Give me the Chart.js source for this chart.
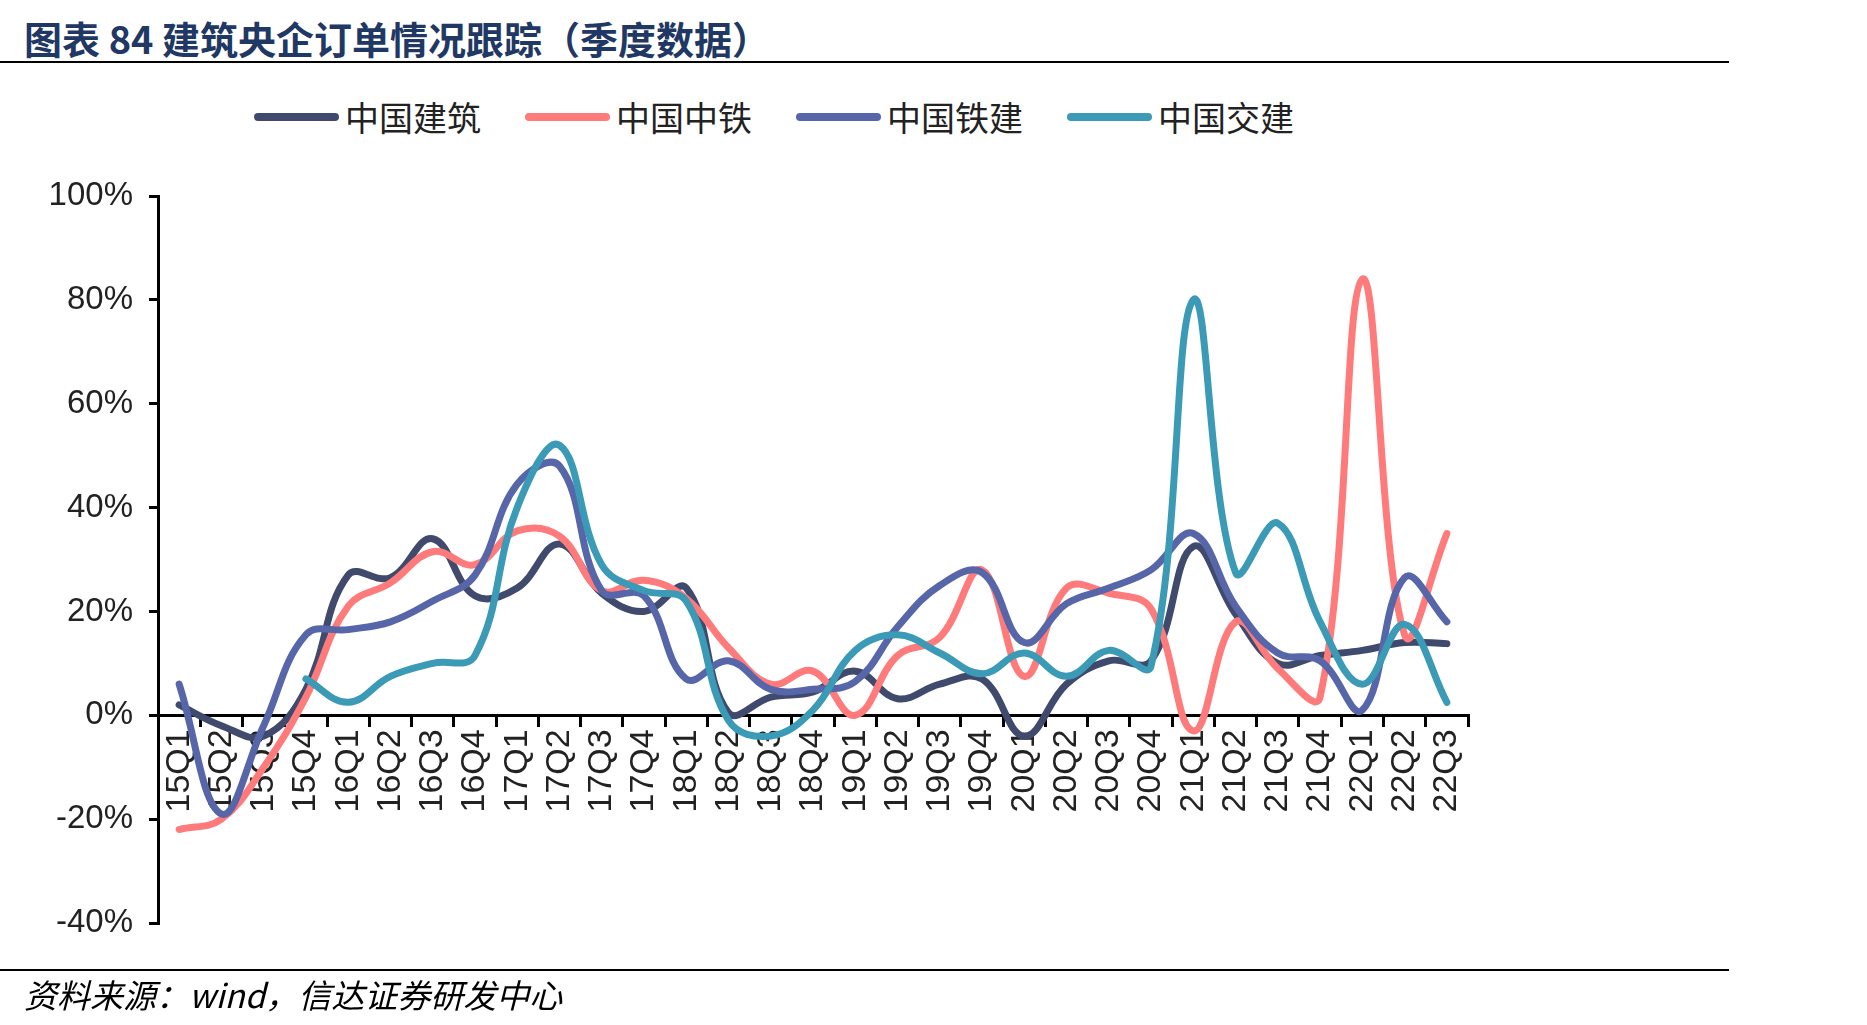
<html>
<head>
  <meta charset="utf-8">
  <title>建筑央企订单情况跟踪</title>
  <script src="https://cdn.jsdelivr.net/npm/chart.js"></script>
  <style>
    body { margin: 0; background: #fff; }
    #page { position: relative; width: 1867px; height: 1025px; overflow: hidden; }
    #title { position: absolute; left: 24px; top: 16px; font: bold 38px "Noto Sans CJK SC", sans-serif; line-height: 44px; color: #1F3864; white-space: nowrap; }
    .rule { position: absolute; left: 0; width: 1729px; height: 2px; background: #000; }
    #legend { position: absolute; left: 254px; top: 97px; display: flex; align-items: center; font: 34px "Noto Sans CJK SC", sans-serif; line-height: 40px; color: #222; }
    #legend .item { display: flex; align-items: center; width: 271px; }
    #legend .swatch { width: 85px; height: 8px; border-radius: 4px; margin-right: 6px; }
    #source { position: absolute; left: 24px; top: 976px; font: italic 33px "Noto Sans CJK SC", sans-serif; line-height: 36px; color: #000; white-space: nowrap; }
    canvas { position: absolute; left: 0; top: 0; }
  </style>
</head>
<body>
  <div id="page">
    <div id="title">图表 84 建筑央企订单情况跟踪（季度数据）</div>
    <div class="rule" style="top:61px"></div>
    <div id="legend"></div>
    <canvas id="orders" width="1867" height="1025"></canvas>
    <div class="rule" style="top:969px"></div>
    <div id="source">资料来源：wind，信达证券研发中心</div>
  </div>

  <script>
    const quarters = ['15Q1', '15Q2', '15Q3', '15Q4', '16Q1', '16Q2', '16Q3', '16Q4',
      '17Q1', '17Q2', '17Q3', '17Q4', '18Q1', '18Q2', '18Q3', '18Q4',
      '19Q1', '19Q2', '19Q3', '19Q4', '20Q1', '20Q2', '20Q3', '20Q4',
      '21Q1', '21Q2', '21Q3', '21Q4', '22Q1', '22Q2', '22Q3'];

    // 订单同比增速 (%)
    const cscec = [2, -2, -4, 5, 27, 26.5, 34, 23, 24.5, 33, 23.5, 20, 24.5, 0.5, 3.5, 4.5,
      8.5, 3.2, 6, 7, -4, 6, 10.5, 10.5, 32.5, 19.5, 10, 11.5, 12.5, 14, 13.8];
    const crec = [-22, -20, -10, 3.5, 21, 25.5, 31.5, 29, 35.5, 34.5, 24, 26, 22.5, 13, 6, 8.5,
      0, 11.5, 15, 28, 7.5, 24.5, 23.5, 20.5, -3, 18, 9, 3.5, 84, 15.5, 35];
    const crcc = [6, -19, -2, 15.5, 16.5, 18, 22, 27, 44.5, 48, 24, 23, 7, 10.5, 5, 5,
      6.5, 17, 25, 27.5, 14, 21.5, 24.5, 28, 35, 21, 12, 10.5, 1, 26.5, 18];
    const cccc = [null, null, null, 7, 2.5, 7.5, 10, 11.5, 40, 52, 29, 24, 22, -1, -4, 1,
      12.5, 15.5, 12, 8, 12, 7.5, 12.5, 9.5, 80, 27.5, 37, 18, 6, 17.5, 2.5];

    const names = ['中国建筑', '中国中铁', '中国铁建', '中国交建'];
    const colors = ['#404A6D', '#FF7A7A', '#5666A8', '#3B9AB5'];
    const series = [cscec, crec, crcc, cccc];

    const legend = document.getElementById('legend');
    names.forEach((n, i) => {
      legend.innerHTML += `<div class="item"><span class="swatch" style="background:${colors[i]}"></span>${n}</div>`;
    });

    const tickFont = { family: '"Liberation Sans", Arial, sans-serif', size: 33 };

    new Chart(document.getElementById('orders'), {
      type: 'line',
      data: {
        labels: quarters,
        datasets: series.map((d, i) => ({
          label: names[i],
          data: d,
          borderColor: colors[i],
          backgroundColor: colors[i],
          order: 3 - i
        }))
      },
      options: {
        responsive: false,
        animation: false,
        devicePixelRatio: 1,
        layout: { padding: { left: 0, right: 399, top: 196, bottom: 102 } },
        plugins: { legend: { display: false }, tooltip: { enabled: false } },
        elements: {
          point: { radius: 0 },
          line: { tension: 0.4, borderWidth: 7, borderCapStyle: 'round', borderJoinStyle: 'round', fill: false }
        },
        scales: {
          x: {
            position: { y: 0 },
            offset: true,
            grid: { offset: true, drawOnChartArea: false, color: '#000', lineWidth: 3, tickLength: 10 },
            border: { color: '#000', width: 3 },
            ticks: { minRotation: 90, maxRotation: 90, autoSkip: false, color: '#222', font: { ...tickFont, size: 34 }, padding: 4 },
            afterFit: s => { s.height = 0; }
          },
          y: {
            min: -40,
            max: 100,
            grid: { drawOnChartArea: false, color: '#000', lineWidth: 3, tickLength: 9 },
            border: { color: '#000', width: 3 },
            ticks: { stepSize: 20, color: '#222', font: tickFont, padding: 16, callback: v => v + '%' },
            afterFit: s => { s.width = 158; }
          }
        }
      }
    });
  </script>
</body>
</html>
